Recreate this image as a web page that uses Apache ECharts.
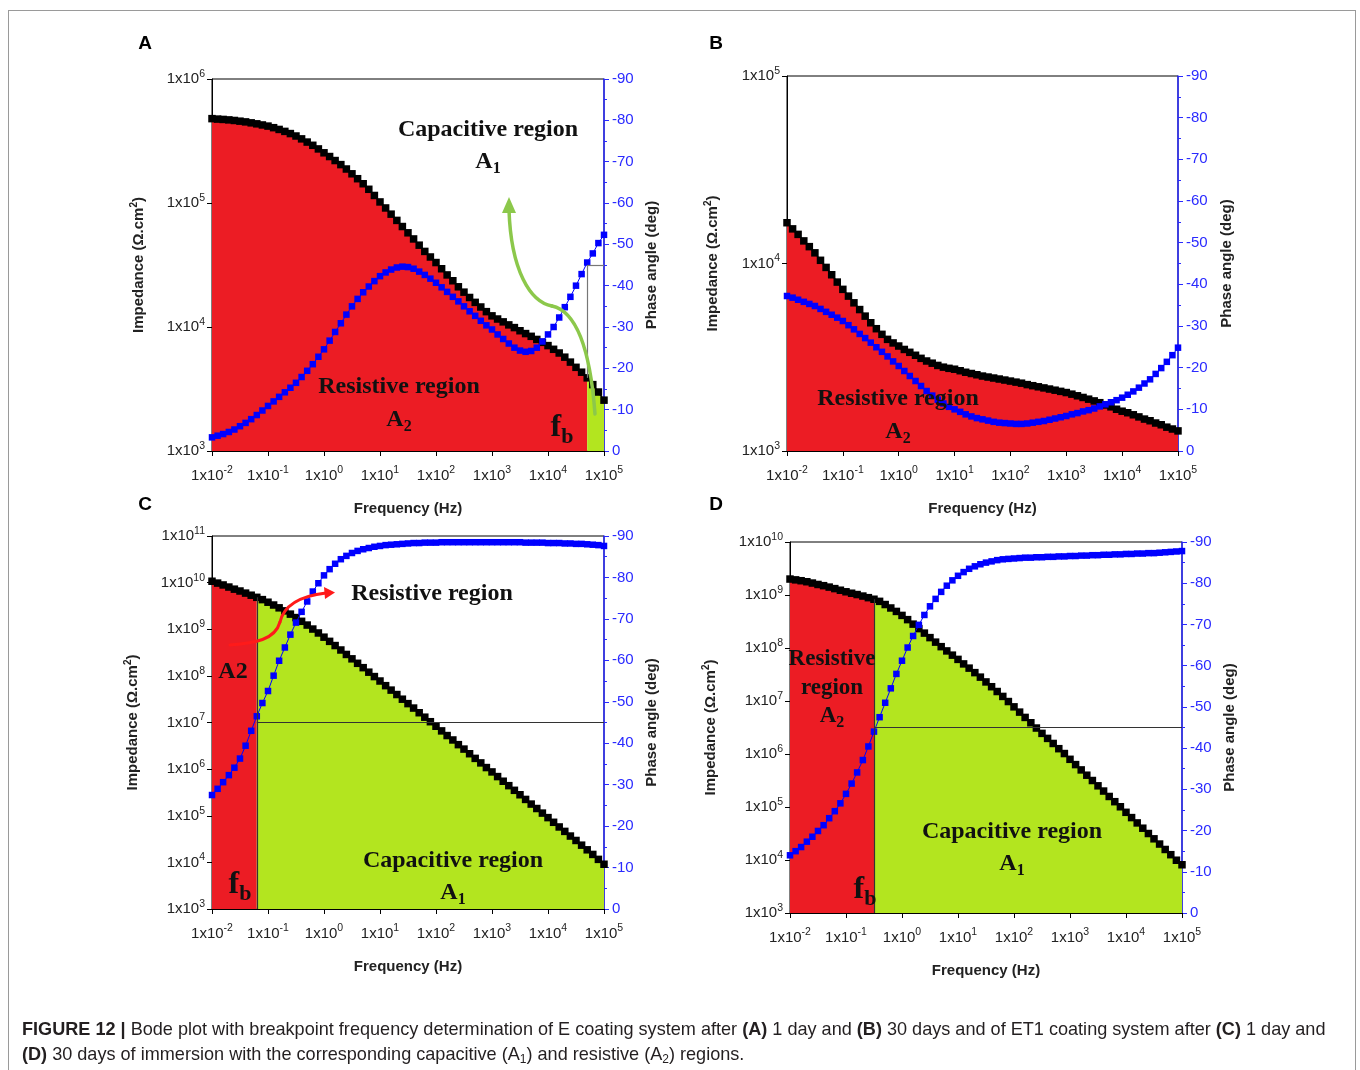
<!DOCTYPE html>
<html>
<head>
<meta charset="utf-8">
<title>Figure 12 - Bode plots</title>
<script src="https://cdn.jsdelivr.net/npm/echarts@6/dist/echarts.min.js"></script>
<style>
  html, body { margin: 0; padding: 0; background: #fff; }
  #wrap { position: relative; width: 1360px; height: 1070px; overflow: hidden; }
  #chart { position: absolute; left: 0; top: 0; width: 1360px; height: 1070px; }
  #frame { position: absolute; left: 8px; top: 10px; width: 1346px; height: 1100px; border: 1px solid #9a9a9a; pointer-events: none; }
  #caption { position: absolute; left: 22px; top: 1017px; font: 18.1px/25px "Liberation Sans", Arial, sans-serif; color: #231f20; white-space: nowrap; }
  #caption sub { font-size: 12px; vertical-align: -3px; line-height: 0; }
</style>
</head>
<body>
<div id="wrap">
  <div id="chart"></div>
  <div id="frame"></div>
  <div id="caption"><b>FIGURE 12 |</b> Bode plot with breakpoint frequency determination of E coating system after <b>(A)</b> 1 day and <b>(B)</b> 30 days and of ET1 coating system after <b>(C)</b> 1 day and<br><b>(D)</b> 30 days of immersion with the corresponding capacitive (A<sub>1</sub>) and resistive (A<sub>2</sub>) regions.</div>
</div>
<script>
// frequencies (Hz), 10 points per decade
const freqHz = [
  0.01, 0.0126, 0.0158, 0.02, 0.0251, 0.0316, 0.0398, 0.0501, 0.0631, 0.0794,
  0.1, 0.126, 0.158, 0.2, 0.251, 0.316, 0.398, 0.501, 0.631, 0.794,
  1, 1.26, 1.58, 2, 2.51, 3.16, 3.98, 5.01, 6.31, 7.94,
  10, 12.6, 15.8, 20, 25.1, 31.6, 39.8, 50.1, 63.1, 79.4,
  100, 126, 158, 200, 251, 316, 398, 501, 631, 794,
  1000, 1259, 1585, 1995, 2512, 3162, 3981, 5012, 6310, 7943,
  10000, 12589, 15849, 19953, 25119, 31623, 39811, 50119, 63096, 79433,
  100000
];

// A : E coating, 1 day
const impA = [
  4.79e5, 4.75e5, 4.72e5, 4.68e5, 4.63e5, 4.57e5, 4.51e5, 4.43e5, 4.35e5, 4.26e5,
  4.17e5, 4.05e5, 3.92e5, 3.78e5, 3.63e5, 3.47e5, 3.29e5, 3.10e5, 2.92e5, 2.73e5,
  2.54e5, 2.37e5, 2.20e5, 2.04e5, 1.88e5, 1.72e5, 1.57e5, 1.43e5, 1.29e5, 1.15e5,
  1.02e5, 9.12e4, 8.13e4, 7.24e4, 6.46e4, 5.75e4, 5.13e4, 4.57e4, 4.07e4, 3.67e4,
  3.31e4, 2.95e4, 2.63e4, 2.36e4, 2.11e4, 1.91e4, 1.73e4, 1.58e4, 1.45e4, 1.33e4,
  1.23e4, 1.16e4, 1.10e4, 1.04e4, 9.89e3, 9.33e3, 8.85e3, 8.41e3, 7.94e3, 7.52e3,
  7.08e3, 6.61e3, 6.17e3, 5.71e3, 5.21e3, 4.73e3, 4.32e3, 3.89e3, 3.43e3, 2.99e3,
  2.57e3
];
const phaseA = [
  -3.3, -3.7, -4.1, -4.6, -5.2, -6.0, -6.8, -7.7, -8.7, -9.8,
  -10.9, -12.0, -13.1, -14.2, -15.3, -16.5, -17.9, -19.4, -21.0, -22.8,
  -24.6, -26.7, -28.8, -30.9, -33.0, -35.0, -36.8, -38.4, -39.8, -41.1,
  -42.3, -43.2, -43.9, -44.4, -44.6, -44.5, -44.1, -43.4, -42.6, -41.7,
  -40.7, -39.6, -38.5, -37.3, -36.2, -35.0, -33.8, -32.7, -31.5, -30.4,
  -29.4, -28.2, -27.1, -26.0, -25.0, -24.3, -24.0, -24.2, -25.0, -26.5,
  -28.2, -30.0, -32.3, -34.8, -37.3, -40.0, -42.8, -45.6, -47.8, -50.3,
  -52.3
];

// B : E coating, 30 days
const impB = [
  1.65e4, 1.53e4, 1.43e4, 1.32e4, 1.23e4, 1.14e4, 1.04e4, 9.53e3, 8.71e3, 7.96e3,
  7.28e3, 6.70e3, 6.17e3, 5.68e3, 5.24e3, 4.83e3, 4.49e3, 4.19e3, 3.94e3, 3.77e3,
  3.63e3, 3.48e3, 3.36e3, 3.24e3, 3.12e3, 3.02e3, 2.94e3, 2.86e3, 2.80e3, 2.76e3,
  2.73e3, 2.68e3, 2.63e3, 2.59e3, 2.55e3, 2.51e3, 2.48e3, 2.45e3, 2.42e3, 2.39e3,
  2.36e3, 2.33e3, 2.30e3, 2.26e3, 2.23e3, 2.20e3, 2.17e3, 2.14e3, 2.11e3, 2.08e3,
  2.05e3, 2.01e3, 1.97e3, 1.93e3, 1.89e3, 1.85e3, 1.81e3, 1.76e3, 1.72e3, 1.67e3,
  1.63e3, 1.60e3, 1.56e3, 1.52e3, 1.48e3, 1.45e3, 1.41e3, 1.38e3, 1.34e3, 1.31e3,
  1.28e3
];
const phaseB = [
  -37.2, -36.8, -36.3, -35.8, -35.3, -34.8, -34.1, -33.4, -32.7, -32.0,
  -31.2, -30.2, -29.2, -28.1, -27.1, -26.0, -24.9, -23.8, -22.7, -21.5,
  -20.4, -19.2, -18.0, -16.8, -15.6, -14.4, -13.3, -12.3, -11.4, -10.6,
  -10.0, -9.4, -8.8, -8.3, -7.9, -7.6, -7.3, -7.0, -6.8, -6.7,
  -6.6, -6.5, -6.5, -6.6, -6.8, -7.0, -7.2, -7.5, -7.8, -8.1,
  -8.4, -8.8, -9.1, -9.5, -9.8, -10.2, -10.7, -11.2, -11.7, -12.2,
  -12.8, -13.5, -14.3, -15.2, -16.2, -17.2, -18.5, -19.9, -21.4, -23.0,
  -24.8
];

// C : ET1 coating, 1 day
const impC = [
  1.07e10, 9.77e9, 8.91e9, 8.04e9, 7.24e9, 6.61e9, 5.96e9, 5.37e9, 4.84e9, 4.32e9,
  3.80e9, 3.31e9, 2.88e9, 2.48e9, 2.11e9, 1.78e9, 1.48e9, 1.23e9, 1.01e9, 8.32e8,
  6.76e8, 5.50e8, 4.47e8, 3.59e8, 2.88e8, 2.32e8, 1.86e8, 1.50e8, 1.20e8, 9.66e7,
  7.76e7, 6.17e7, 4.95e7, 3.98e7, 3.16e7, 2.54e7, 2.04e7, 1.62e7, 1.30e7, 1.04e7,
  8.32e6, 6.61e6, 5.25e6, 4.22e6, 3.35e6, 2.69e6, 2.14e6, 1.70e6, 1.36e6, 1.08e6,
  8.71e5, 6.92e5, 5.50e5, 4.42e5, 3.51e5, 2.82e5, 2.24e5, 1.78e5, 1.43e5, 1.14e5,
  9.12e4, 7.24e4, 5.75e4, 4.62e4, 3.67e4, 2.95e4, 2.34e4, 1.86e4, 1.48e4, 1.16e4,
  9.12e3
];
const phaseC = [
  -27.5, -29.0, -30.6, -32.3, -34.1, -36.3, -39.4, -43.0, -46.5, -49.7,
  -52.6, -56.3, -59.9, -63.1, -66.2, -69.1, -71.7, -74.2, -76.6, -78.6,
  -80.5, -82.0, -83.3, -84.4, -85.2, -85.9, -86.4, -86.8, -87.1, -87.4,
  -87.6, -87.8, -87.9, -88.0, -88.1, -88.2, -88.3, -88.3, -88.4, -88.4,
  -88.4, -88.5, -88.5, -88.5, -88.5, -88.5, -88.5, -88.5, -88.5, -88.5,
  -88.5, -88.5, -88.5, -88.5, -88.5, -88.5, -88.4, -88.4, -88.4, -88.4,
  -88.3, -88.3, -88.3, -88.2, -88.2, -88.1, -88.1, -88.0, -87.9, -87.8,
  -87.6
];

// D : ET1 coating, 30 days
const impD = [
  2.00e9, 1.93e9, 1.86e9, 1.78e9, 1.68e9, 1.58e9, 1.50e9, 1.41e9, 1.32e9, 1.23e9,
  1.15e9, 1.08e9, 1.02e9, 9.55e8, 8.91e8, 8.32e8, 7.59e8, 6.61e8, 5.69e8, 4.90e8,
  4.12e8, 3.43e8, 2.82e8, 2.32e8, 1.91e8, 1.57e8, 1.29e8, 1.06e8, 8.81e7, 7.33e7,
  6.10e7, 5.01e7, 4.17e7, 3.43e7, 2.82e7, 2.29e7, 1.86e7, 1.51e7, 1.22e7, 9.77e6,
  7.76e6, 6.17e6, 4.90e6, 3.89e6, 3.09e6, 2.45e6, 1.97e6, 1.58e6, 1.26e6, 1.02e6,
  7.94e5, 6.31e5, 5.01e5, 3.98e5, 3.16e5, 2.51e5, 2.00e5, 1.58e5, 1.26e5, 1.01e5,
  7.94e4, 6.31e4, 5.01e4, 3.98e4, 3.16e4, 2.51e4, 2.00e4, 1.58e4, 1.26e4, 9.9e3,
  8.13e3
];
const phaseD = [
  -14.0, -15.0, -16.0, -17.3, -18.5, -19.9, -21.3, -23.0, -24.7, -26.6,
  -28.9, -31.4, -34.1, -37.1, -40.4, -44.0, -47.5, -51.0, -54.5, -58.0,
  -61.2, -64.4, -67.2, -69.9, -72.3, -74.4, -76.2, -77.9, -79.4, -80.7,
  -81.8, -82.7, -83.5, -84.1, -84.6, -85.0, -85.3, -85.6, -85.8, -85.9,
  -86.0, -86.1, -86.2, -86.2, -86.3, -86.3, -86.4, -86.4, -86.5, -86.5,
  -86.6, -86.6, -86.7, -86.7, -86.8, -86.8, -86.9, -86.9, -87.0, -87.0,
  -87.1, -87.1, -87.2, -87.2, -87.3, -87.3, -87.4, -87.5, -87.6, -87.7,
  -87.8
];

// breakpoint frequency (index into freqHz where phase crosses -45 deg)
const fbIdxA = 67;
const fbIdxC = 8;
const fbIdxD = 15;
const phase45 = -45;
const midZA = 3.16e4; // top of the fb marker line in panel A

const RED = '#ec1c24';
const GREEN = '#b3e51f';
const BLUE = '#0000ff';
const SANS = '"Liberation Sans", Arial, sans-serif';
const SERIF = '"Liberation Serif", "Times New Roman", serif';

const panels = [
  { grid: { left: 212, top: 79, width: 392, height: 372 }, zMin: 1e3, zMax: 1e6, imp: impA, phase: phaseA, fb: fbIdxA, zGap: 64, pGap: 40 },
  { grid: { left: 787, top: 76, width: 391, height: 375 }, zMin: 1e3, zMax: 1e5, imp: impB, phase: phaseB, fb: null, zGap: 65, pGap: 41 },
  { grid: { left: 212, top: 536, width: 392, height: 373 }, zMin: 1e3, zMax: 1e11, imp: impC, phase: phaseC, fb: fbIdxC, zGap: 70, pGap: 40 },
  { grid: { left: 790, top: 542, width: 392, height: 371 }, zMin: 1e3, zMax: 1e10, imp: impD, phase: phaseD, fb: fbIdxD, zGap: 70, pGap: 40 }
];

function pairs(vals) {
  return vals.map((v, i) => [freqHz[i], v]);
}

function powLabel(v) {
  const e = Math.round(Math.log10(v));
  return '1x10{sup|' + e + '}';
}

const tickRich = {
  sup: { fontSize: 10.5, fontFamily: SANS, color: '#222', padding: [0, 0, 10, 0] }
};

const grids = [];
const xAxes = [];
const yAxes = [];
const series = [];

panels.forEach((p, i) => {
  grids.push(Object.assign({ show: true, borderColor: '#000', borderWidth: 1, backgroundColor: 'transparent' }, p.grid));

  xAxes.push({
    type: 'log', logBase: 10, gridIndex: i, min: 0.01, max: 1e5, splitNumber: 7,
    name: 'Frequency (Hz)', nameLocation: 'middle', nameGap: 50,
    nameTextStyle: { fontFamily: SANS, fontWeight: 'bold', fontSize: 15, color: '#222' },
    axisLine: { show: true, lineStyle: { color: '#000', width: 1 } },
    axisTick: { show: true, inside: false, length: 5, lineStyle: { color: '#000' } },
    minorTick: { show: false },
    splitLine: { show: false },
    axisLabel: { formatter: powLabel, rich: tickRich, fontFamily: SANS, fontSize: 15, color: '#222', margin: 14 }
  });

  const decades = Math.round(Math.log10(p.zMax / p.zMin));
  yAxes.push({
    type: 'log', logBase: 10, gridIndex: i, position: 'left', min: p.zMin, max: p.zMax, splitNumber: decades,
    name: 'Impedance (Ω.cm{sup|2})', nameLocation: 'middle', nameRotate: 90, nameGap: p.zGap,
    nameTextStyle: {
      fontFamily: SANS, fontWeight: 'bold', fontSize: 15, color: '#222',
      rich: { sup: { fontFamily: SANS, fontWeight: 'bold', fontSize: 10, color: '#222', padding: [0, 0, 9, 0] } }
    },
    axisLine: { show: true, lineStyle: { color: '#000', width: 1 } },
    axisTick: { show: true, inside: false, length: 5, lineStyle: { color: '#000' } },
    splitLine: { show: false },
    axisLabel: { formatter: powLabel, rich: tickRich, fontFamily: SANS, fontSize: 15, color: '#222', margin: 7 }
  });

  yAxes.push({
    type: 'value', gridIndex: i, position: 'right', min: -90, max: 0, interval: 10, inverse: true,
    name: 'Phase angle (deg)', nameLocation: 'middle', nameRotate: 90, nameGap: p.pGap,
    nameTextStyle: { fontFamily: SANS, fontWeight: 'bold', fontSize: 15, color: '#222' },
    axisLine: { show: true, lineStyle: { color: '#2a2aff', width: 1.5 } },
    axisTick: { show: true, inside: false, length: 5, lineStyle: { color: '#2a2aff' } },
    minorTick: { show: true, splitNumber: 2, length: 3, lineStyle: { color: '#2a2aff' } },
    splitLine: { show: false },
    axisLabel: { fontFamily: SANS, fontSize: 15, color: '#2a2aff', margin: 8 }
  });

  const zPts = pairs(p.imp);
  const zAxis = 2 * i;
  const pAxis = 2 * i + 1;

  // filled regions under |Z|
  const redPts = p.fb === null ? zPts : zPts.slice(0, p.fb + 1);
  series.push({
    type: 'line', xAxisIndex: i, yAxisIndex: zAxis, data: redPts, symbol: 'none', silent: true, z: 1,
    lineStyle: { width: 0, opacity: 0 }, areaStyle: { color: RED, opacity: 1, origin: 'start' }
  });
  if (p.fb !== null) {
    series.push({
      type: 'line', xAxisIndex: i, yAxisIndex: zAxis, data: zPts.slice(p.fb), symbol: 'none', silent: true, z: 1,
      lineStyle: { width: 0, opacity: 0 }, areaStyle: { color: GREEN, opacity: 1, origin: 'start' }
    });
  }

  // impedance modulus
  const zSeries = {
    type: 'line', name: '|Z|', xAxisIndex: i, yAxisIndex: zAxis, data: zPts, z: 3,
    symbol: 'rect', symbolSize: 7.5, showAllSymbol: true,
    itemStyle: { color: '#000' }, lineStyle: { color: '#000', width: 1.5 }
  };
  if (p.fb !== null) {
    const fbF = freqHz[p.fb];
    const seg = i === 0
      ? [{ coord: [fbF, midZA] }, { coord: [fbF, p.imp[p.fb]] }]
      : [{ coord: [fbF, p.imp[p.fb]] }, { coord: [fbF, p.zMin] }];
    zSeries.markLine = {
      silent: true, symbol: ['none', 'none'], label: { show: false },
      lineStyle: { color: i === 0 ? '#777' : '#333', width: 1.2, type: 'solid' },
      data: [seg]
    };
  }
  series.push(zSeries);

  // phase angle
  const pSeries = {
    type: 'line', name: 'phase', xAxisIndex: i, yAxisIndex: pAxis, data: pairs(p.phase), z: 4,
    symbol: 'rect', symbolSize: 6.5, showAllSymbol: true,
    itemStyle: { color: BLUE }, lineStyle: { color: BLUE, width: 1 }
  };
  if (p.fb !== null) {
    pSeries.markLine = {
      silent: true, symbol: ['none', 'none'], label: { show: false },
      lineStyle: { color: i === 0 ? '#777' : '#333', width: 1.2, type: 'solid' },
      data: [[{ coord: [freqHz[p.fb], phase45] }, { coord: [1e5, phase45] }]]
    };
  }
  series.push(pSeries);
});

// annotation helpers
function note(x, y, text, size) {
  return {
    type: 'text', x: x, y: y, z: 100, silent: true,
    style: {
      text: text, fontFamily: SERIF, fontWeight: 'bold', fontSize: size || 24, fill: '#111',
      align: 'center', verticalAlign: 'middle',
      rich: {
        s: { fontFamily: SERIF, fontWeight: 'bold', fontSize: 16, fill: '#111', padding: [13, 0, 0, 0] },
        b: { fontFamily: SERIF, fontWeight: 'bold', fontSize: 22, fill: '#111', padding: [18, 0, 0, 0] }
      }
    }
  };
}
function letter(x, y, t) {
  return { type: 'text', x: x, y: y, z: 100, silent: true,
    style: { text: t, fontFamily: SANS, fontWeight: 'bold', fontSize: 19, fill: '#000', align: 'center', verticalAlign: 'middle' } };
}
function curve(pts, color, w) {
  return { type: 'bezierCurve', z: 90, silent: true,
    shape: { x1: pts[0], y1: pts[1], cpx1: pts[2], cpy1: pts[3], cpx2: pts[4], cpy2: pts[5], x2: pts[6], y2: pts[7] },
    style: { fill: 'none', stroke: color, lineWidth: w, lineCap: 'round' } };
}
function head(points, color) {
  return { type: 'polygon', z: 90, silent: true, shape: { points: points }, style: { fill: color } };
}

const arrowGreen = '#8cc84b';
const arrowRed = '#ff1a1a';

const graphics = [
  letter(145, 44, 'A'), letter(716, 44, 'B'), letter(145, 505, 'C'), letter(716, 505, 'D'),

  // A
  note(488, 130, 'Capacitive region'),
  note(488, 162, 'A{s|1}'),
  note(399, 387, 'Resistive region'),
  note(399, 420, 'A{s|2}'),
  note(562, 428, 'f{b|b}', 32),
  curve([595, 414, 591, 360, 580, 312, 552, 306], arrowGreen, 3.5),
  curve([552, 306, 530, 302, 511, 270, 509, 210], arrowGreen, 3.5),
  head([[509, 197], [502, 213], [516, 213]], arrowGreen),

  // B
  note(898, 399, 'Resistive region'),
  note(898, 432, 'A{s|2}'),

  // C
  note(432, 594, 'Resistive region'),
  note(233, 672, 'A2'),
  note(453, 861, 'Capacitive region'),
  note(453, 893, 'A{s|1}'),
  note(240, 885, 'f{b|b}', 32),
  curve([230, 645, 255, 643, 275, 640, 280, 622], arrowRed, 3),
  curve([280, 622, 284, 605, 300, 596, 326, 593], arrowRed, 3),
  head([[335, 592.5], [324, 587], [325, 599]], arrowRed),

  // D
  note(832, 659, 'Resistive', 23),
  note(832, 688, 'region', 23),
  note(832, 716, 'A{s|2}', 23),
  note(1012, 832, 'Capacitive region'),
  note(1012, 864, 'A{s|1}'),
  note(865, 890, 'f{b|b}', 32)
];

const chart = echarts.init(document.getElementById('chart'), null, { renderer: 'canvas' });
chart.setOption({
  animation: false,
  backgroundColor: '#fff',
  textStyle: { fontFamily: SANS },
  grid: grids,
  xAxis: xAxes,
  yAxis: yAxes,
  series: series,
  graphic: graphics
});
</script>
</body>
</html>
